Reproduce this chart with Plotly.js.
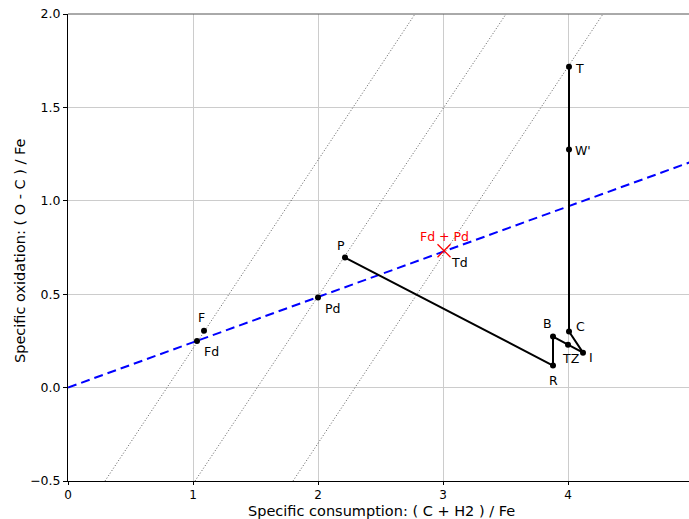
<!DOCTYPE html>
<html>
<head>
<meta charset="utf-8">
<script src="https://cdn.plot.ly/plotly-3.0.1.min.js"></script>
<style>html,body{margin:0;padding:0;background:#fff;}#chart{width:689px;height:519px;}</style>
</head>
<body>
<div id="chart"></div>
<script>
// Operating path (Rist diagram)
const pathLabels = ["P", "R", "B", "TZ", "I", "C", "W'", "T"];
const pathX = [2.216, 3.88, 3.88, 4.0, 4.12, 4.008, 4.008, 4.008];
const pathY = [0.696, 0.118, 0.273, 0.23, 0.187, 0.30, 1.274, 1.718];

// Ideal points on the blue line
const idealLabels = ["F", "Fd", "Pd"];
const idealX = [1.088, 1.032, 2.0];
const idealY = [0.305, 0.25, 0.482];

// Td point (red cross)
const tdX = [3.008];
const tdY = [0.733];

// Blue operating line
const lineX = [0, 4.97];
const lineY = [0, 1.205];

// Dotted reference lines (start / end)
const dot1X = [0.296, 2.776], dot1Y = [-0.5, 2.0];
const dot2X = [1.016, 3.504], dot2Y = [-0.5, 2.0];
const dot3X = [1.80, 4.28],  dot3Y = [-0.5, 2.0];

const xTicks = [0, 1, 2, 3, 4];
const yTicks = [-0.5, 0.0, 0.5, 1.0, 1.5, 2.0];

const xTitle = "Specific consumption: ( C + H2 ) / Fe";
const yTitle = "Specific oxidation: ( O - C ) / Fe";

const font = "DejaVu Sans, sans-serif";
const dotStyle = {color: "#333", width: 0.8, dash: "1px,2px"};

const traces = [
  {x: dot1X, y: dot1Y, mode: "lines", line: dotStyle, hoverinfo: "skip"},
  {x: dot2X, y: dot2Y, mode: "lines", line: dotStyle, hoverinfo: "skip"},
  {x: dot3X, y: dot3Y, mode: "lines", line: dotStyle, hoverinfo: "skip"},
  {x: lineX, y: lineY, mode: "lines", line: {color: "#0000ff", width: 2, dash: "9px,5px"}},
  {x: pathX, y: pathY, mode: "lines+markers", line: {color: "#000", width: 2},
   marker: {color: "#000", size: 6}},
  {x: idealX, y: idealY, mode: "markers", marker: {color: "#000", size: 6}},
  {x: tdX, y: tdY, mode: "markers", marker: {color: "#ff0000", size: 13, symbol: "x-thin",
   line: {color: "#ff0000", width: 1.3}}}
];

// label offsets in pixels [dx, dy(up)]
const offsets = {
  "P": [-4, 12], "R": [0, -15], "B": [-6, 13], "TZ": [2, -14], "I": [8, -5],
  "C": [11, 5], "W'": [14, -1], "T": [10, -2],
  "F": [-3, 13], "Fd": [14, -11], "Pd": [14, -11]
};
const lblFont = {family: font, size: 12.5, color: "#000"};
const annotations = [];
pathLabels.forEach((l, i) => annotations.push({x: pathX[i], y: pathY[i], text: l, showarrow: false,
  xshift: offsets[l][0], yshift: offsets[l][1], font: lblFont}));
idealLabels.forEach((l, i) => annotations.push({x: idealX[i], y: idealY[i], text: l, showarrow: false,
  xshift: offsets[l][0], yshift: offsets[l][1], font: lblFont}));
annotations.push({x: tdX[0], y: tdY[0], text: "Td", showarrow: false, xshift: 15, yshift: -12, font: lblFont});
annotations.push({x: tdX[0], y: tdY[0], text: "Fd + Pd", showarrow: false, xshift: 0, yshift: 14,
  font: {family: font, size: 12.5, color: "#ff0000"}});
// axis titles
annotations.push({xref: "paper", yref: "paper", x: 0.5, y: 0, xanchor: "center", yanchor: "middle",
  xshift: 3, yshift: -30, text: xTitle, showarrow: false, font: {family: font, size: 14.5, color: "#000"}});
annotations.push({xref: "paper", yref: "paper", x: 0, y: 0.5, xanchor: "center", yanchor: "middle",
  xshift: -48.5, yshift: -3, textangle: -90, text: yTitle, showarrow: false,
  font: {family: font, size: 14.5, color: "#000"}});

const layout = {
  width: 689, height: 519,
  margin: {l: 68, r: 0, t: 14, b: 38},
  paper_bgcolor: "#fff", plot_bgcolor: "#fff",
  showlegend: false,
  font: {family: font, size: 12.5, color: "#000"},
  xaxis: {
    range: [0, 4.968], tickvals: xTicks, ticktext: xTicks.map(String),
    tickfont: {family: font, size: 12},
    showgrid: true, gridcolor: "#cccccc", gridwidth: 1, zeroline: false,
    showline: true, linecolor: "#000", linewidth: 1,
    ticks: "outside", ticklen: 3, tickcolor: "#000"
  },
  yaxis: {
    range: [-0.5, 2.0], tickvals: yTicks, ticktext: yTicks.map(v => (v < 0 ? "\u2212" : "") + Math.abs(v).toFixed(1)),
    tickfont: {family: font, size: 12.5},
    showgrid: true, gridcolor: "#cccccc", gridwidth: 1, zeroline: false,
    showline: true, linecolor: "#000", linewidth: 1,
    ticks: "outside", ticklen: 4, tickcolor: "#000"
  },
  shapes: [{type: "line", xref: "paper", yref: "paper", x0: 0, x1: 1, y0: 1, y1: 1,
    line: {color: "#555", width: 1}}],
  annotations: annotations
};

Plotly.newPlot("chart", traces, layout, {displayModeBar: false, staticPlot: true});
</script>
</body>
</html>
